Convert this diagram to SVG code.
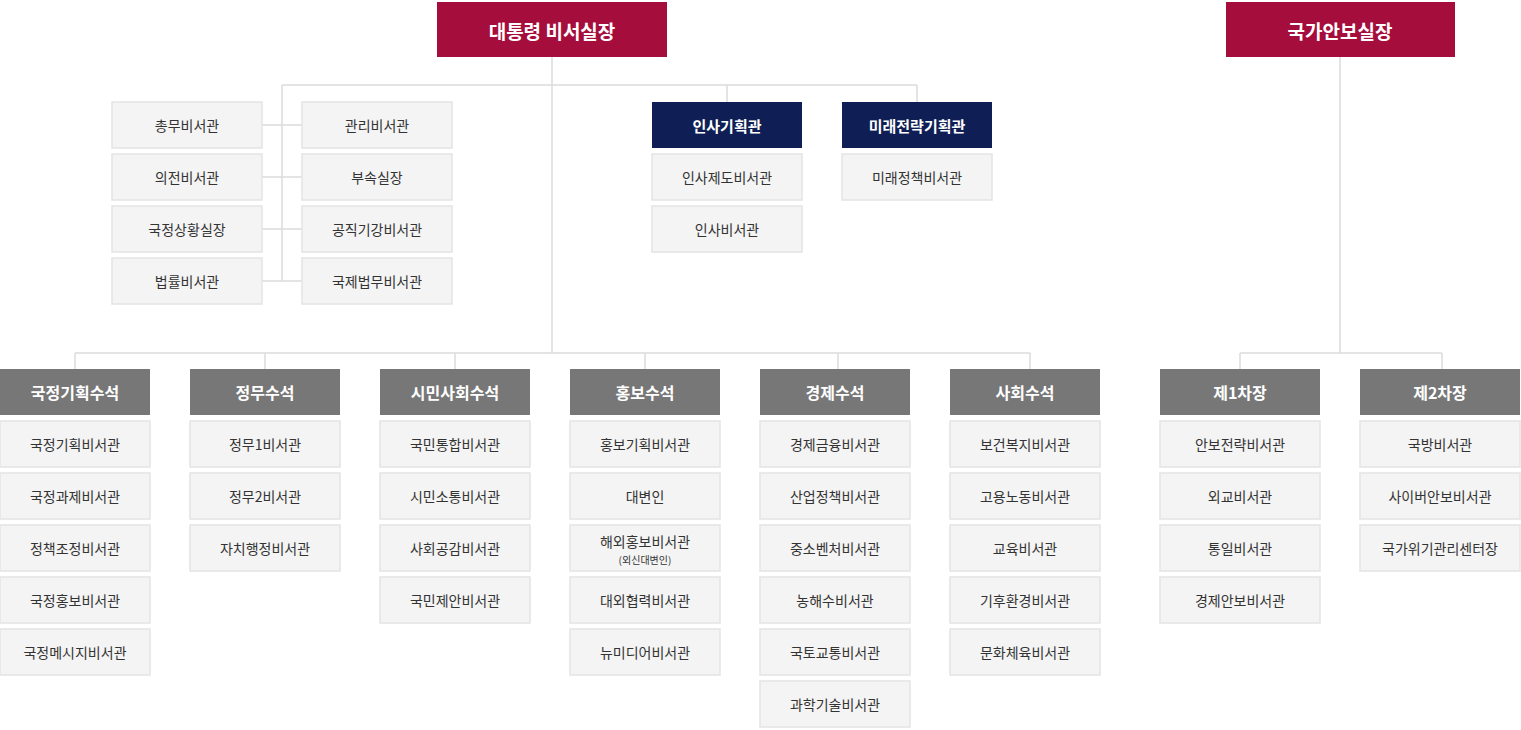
<svg xmlns="http://www.w3.org/2000/svg" width="1521" height="730" viewBox="0 0 1521 730">
<style>
text{font-family:"Noto Sans CJK KR","Noto Sans",sans-serif;text-anchor:middle;dominant-baseline:central}
.top rect{fill:#a50d3c}.top text{fill:#fff;font-size:19px;font-weight:bold}
.navy rect{fill:#0f1f55}.navy text{fill:#fff;font-size:15px;font-weight:bold}
.head rect{fill:#777}.head text{fill:#fff;font-size:16px;font-weight:bold}
.box rect{fill:#f4f4f4;stroke:#e4e4e4;stroke-width:1.5}.box text{fill:#333;font-size:14px}
.c{stroke:#dcdcdc;stroke-width:1.5;fill:none}
</style>
<g id="connectors" class="c">
<path d="M552 57V353M282 85H917M282 85V281M262 125H302M262 177H302M262 229H302M262 281H302M727 85V102M917 85V102"/>
<path d="M75 353H1030M75 353V369M265 353V369M455 353V369M645 353V369M838 353V369M1030 353V369"/>
<path d="M1340 57V353M1240 353H1442M1240 353V369M1442 353V369"/>
</g>
<g id="n-chief" class="top"><rect x="437" y="2" width="230" height="55"/><text x="552" y="30">대통령 비서실장</text></g>
<g id="n-security" class="top"><rect x="1226" y="2" width="229" height="55"/><text x="1340" y="30">국가안보실장</text></g>
<g id="n-l1" class="box"><rect x="112" y="102" width="150" height="46"/><text x="187" y="125">총무비서관</text></g>
<g id="n-l2" class="box"><rect x="112" y="154" width="150" height="46"/><text x="187" y="177">의전비서관</text></g>
<g id="n-l3" class="box"><rect x="112" y="206" width="150" height="46"/><text x="187" y="229">국정상황실장</text></g>
<g id="n-l4" class="box"><rect x="112" y="258" width="150" height="46"/><text x="187" y="281">법률비서관</text></g>
<g id="n-r1" class="box"><rect x="302" y="102" width="150" height="46"/><text x="377" y="125">관리비서관</text></g>
<g id="n-r2" class="box"><rect x="302" y="154" width="150" height="46"/><text x="377" y="177">부속실장</text></g>
<g id="n-r3" class="box"><rect x="302" y="206" width="150" height="46"/><text x="377" y="229">공직기강비서관</text></g>
<g id="n-r4" class="box"><rect x="302" y="258" width="150" height="46"/><text x="377" y="281">국제법무비서관</text></g>
<g id="n-hr" class="navy"><rect x="652" y="102" width="150" height="46"/><text x="727" y="125">인사기획관</text></g>
<g id="n-hr1" class="box"><rect x="652" y="154" width="150" height="46"/><text x="727" y="177">인사제도비서관</text></g>
<g id="n-hr2" class="box"><rect x="652" y="206" width="150" height="46"/><text x="727" y="229">인사비서관</text></g>
<g id="n-fut" class="navy"><rect x="842" y="102" width="150" height="46"/><text x="917" y="125">미래전략기획관</text></g>
<g id="n-fut1" class="box"><rect x="842" y="154" width="150" height="46"/><text x="917" y="177">미래정책비서관</text></g>

<g id="n-c1" class="head"><rect x="0" y="369" width="150" height="46"/><text x="75" y="392">국정기획수석</text></g>
<g id="n-c1a" class="box"><rect x="0" y="421" width="150" height="46"/><text x="75" y="444">국정기획비서관</text></g>
<g id="n-c1b" class="box"><rect x="0" y="473" width="150" height="46"/><text x="75" y="496">국정과제비서관</text></g>
<g id="n-c1c" class="box"><rect x="0" y="525" width="150" height="46"/><text x="75" y="548">정책조정비서관</text></g>
<g id="n-c1d" class="box"><rect x="0" y="577" width="150" height="46"/><text x="75" y="600">국정홍보비서관</text></g>
<g id="n-c1e" class="box"><rect x="0" y="629" width="150" height="46"/><text x="75" y="652">국정메시지비서관</text></g>

<g id="n-c2" class="head"><rect x="190" y="369" width="150" height="46"/><text x="265" y="392">정무수석</text></g>
<g id="n-c2a" class="box"><rect x="190" y="421" width="150" height="46"/><text x="265" y="444">정무1비서관</text></g>
<g id="n-c2b" class="box"><rect x="190" y="473" width="150" height="46"/><text x="265" y="496">정무2비서관</text></g>
<g id="n-c2c" class="box"><rect x="190" y="525" width="150" height="46"/><text x="265" y="548">자치행정비서관</text></g>

<g id="n-c3" class="head"><rect x="380" y="369" width="150" height="46"/><text x="455" y="392">시민사회수석</text></g>
<g id="n-c3a" class="box"><rect x="380" y="421" width="150" height="46"/><text x="455" y="444">국민통합비서관</text></g>
<g id="n-c3b" class="box"><rect x="380" y="473" width="150" height="46"/><text x="455" y="496">시민소통비서관</text></g>
<g id="n-c3c" class="box"><rect x="380" y="525" width="150" height="46"/><text x="455" y="548">사회공감비서관</text></g>
<g id="n-c3d" class="box"><rect x="380" y="577" width="150" height="46"/><text x="455" y="600">국민제안비서관</text></g>

<g id="n-c4" class="head"><rect x="570" y="369" width="150" height="46"/><text x="645" y="392">홍보수석</text></g>
<g id="n-c4a" class="box"><rect x="570" y="421" width="150" height="46"/><text x="645" y="444">홍보기획비서관</text></g>
<g id="n-c4b" class="box"><rect x="570" y="473" width="150" height="46"/><text x="645" y="496">대변인</text></g>
<g id="n-c4c" class="box"><rect x="570" y="525" width="150" height="46"/><text x="645" y="541">해외홍보비서관</text><text x="645" y="559" style="font-size:10px">(외신대변인)</text></g>
<g id="n-c4d" class="box"><rect x="570" y="577" width="150" height="46"/><text x="645" y="600">대외협력비서관</text></g>
<g id="n-c4e" class="box"><rect x="570" y="629" width="150" height="46"/><text x="645" y="652">뉴미디어비서관</text></g>

<g id="n-c5" class="head"><rect x="760" y="369" width="150" height="46"/><text x="835" y="392">경제수석</text></g>
<g id="n-c5a" class="box"><rect x="760" y="421" width="150" height="46"/><text x="835" y="444">경제금융비서관</text></g>
<g id="n-c5b" class="box"><rect x="760" y="473" width="150" height="46"/><text x="835" y="496">산업정책비서관</text></g>
<g id="n-c5c" class="box"><rect x="760" y="525" width="150" height="46"/><text x="835" y="548">중소벤처비서관</text></g>
<g id="n-c5d" class="box"><rect x="760" y="577" width="150" height="46"/><text x="835" y="600">농해수비서관</text></g>
<g id="n-c5e" class="box"><rect x="760" y="629" width="150" height="46"/><text x="835" y="652">국토교통비서관</text></g>
<g id="n-c5f" class="box"><rect x="760" y="681" width="150" height="46"/><text x="835" y="704">과학기술비서관</text></g>

<g id="n-c6" class="head"><rect x="950" y="369" width="150" height="46"/><text x="1025" y="392">사회수석</text></g>
<g id="n-c6a" class="box"><rect x="950" y="421" width="150" height="46"/><text x="1025" y="444">보건복지비서관</text></g>
<g id="n-c6b" class="box"><rect x="950" y="473" width="150" height="46"/><text x="1025" y="496">고용노동비서관</text></g>
<g id="n-c6c" class="box"><rect x="950" y="525" width="150" height="46"/><text x="1025" y="548">교육비서관</text></g>
<g id="n-c6d" class="box"><rect x="950" y="577" width="150" height="46"/><text x="1025" y="600">기후환경비서관</text></g>
<g id="n-c6e" class="box"><rect x="950" y="629" width="150" height="46"/><text x="1025" y="652">문화체육비서관</text></g>

<g id="n-s1" class="head"><rect x="1160" y="369" width="160" height="46"/><text x="1240" y="392">제1차장</text></g>
<g id="n-s1a" class="box"><rect x="1160" y="421" width="160" height="46"/><text x="1240" y="444">안보전략비서관</text></g>
<g id="n-s1b" class="box"><rect x="1160" y="473" width="160" height="46"/><text x="1240" y="496">외교비서관</text></g>
<g id="n-s1c" class="box"><rect x="1160" y="525" width="160" height="46"/><text x="1240" y="548">통일비서관</text></g>
<g id="n-s1d" class="box"><rect x="1160" y="577" width="160" height="46"/><text x="1240" y="600">경제안보비서관</text></g>

<g id="n-s2" class="head"><rect x="1360" y="369" width="160" height="46"/><text x="1440" y="392">제2차장</text></g>
<g id="n-s2a" class="box"><rect x="1360" y="421" width="160" height="46"/><text x="1440" y="444">국방비서관</text></g>
<g id="n-s2b" class="box"><rect x="1360" y="473" width="160" height="46"/><text x="1440" y="496">사이버안보비서관</text></g>
<g id="n-s2c" class="box"><rect x="1360" y="525" width="160" height="46"/><text x="1440" y="548">국가위기관리센터장</text></g>
</svg>
